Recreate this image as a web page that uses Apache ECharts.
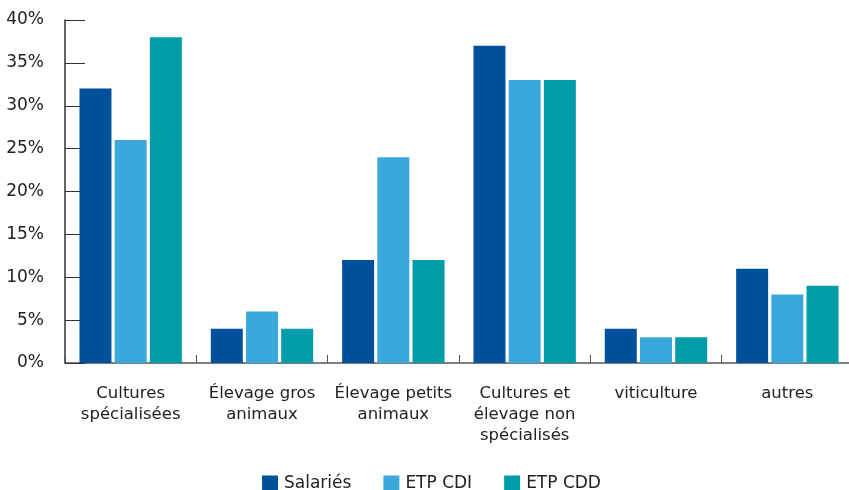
<!DOCTYPE html>
<html><head><meta charset="utf-8">
<script src="https://cdn.jsdelivr.net/npm/echarts@6/dist/echarts.min.js"></script>
<style>html,body{margin:0;padding:0;background:#fff;overflow:hidden}#c{width:870px;height:490px}</style>
</head><body><div id="c"></div>
<script>
const categories = ["Cultures\nspécialisées", "Élevage gros\nanimaux", "Élevage petits\nanimaux", "Cultures et\nélevage non\nspécialisés", "viticulture", "autres"];
const salaries = [32, 4, 12, 37, 4, 11];
const etpCdi = [26, 6, 24, 33, 3, 8];
const etpCdd = [38, 4, 12, 33, 3, 9];
const seriesNames = ["Salariés", "ETP CDI", "ETP CDD"];
const colors = ["#00519c", "#3aa8db", "#009ca7"];
const FONT = "DejaVu Sans";
const chart = echarts.init(document.getElementById('c'));
const mk = (name, data, color) => ({
  name, type: 'bar', data, barWidth: 32, barGap: '10%',
  itemStyle: { color }
});
chart.setOption({
  animation: false,
  color: colors,
  textStyle: { fontFamily: FONT },
  grid: { left: 65, width: 788, top: 20, height: 343, containLabel: false },
  legend: {
    left: 262, top: 475, padding: 0,
    itemWidth: 16, itemHeight: 16, itemGap: 32,
    icon: 'rect',
    textStyle: { fontFamily: FONT, fontSize: 17, color: '#222', padding: [0, 0, 0, 1] },
    data: seriesNames
  },
  xAxis: {
    type: 'category', data: categories,
    axisLine: { lineStyle: { color: '#555', width: 1.5 } },
    axisTick: { show: true, inside: true, length: 8, lineStyle: { color: '#555' } },
    axisLabel: { fontFamily: FONT, fontSize: 16.5, color: '#222', lineHeight: 21, margin: 20, interval: 0 }
  },
  yAxis: {
    type: 'value', min: 0, max: 40, interval: 5,
    axisLine: { show: true, lineStyle: { color: '#333', width: 1.5 } },
    axisTick: { show: true, inside: true, length: 20, lineStyle: { color: '#333' } },
    splitLine: { show: false },
    axisLabel: { fontFamily: FONT, fontSize: 17, color: '#222', margin: 21, formatter: v => v + '%' }
  },
  series: [
    mk(seriesNames[0], salaries, colors[0]),
    mk(seriesNames[1], etpCdi, colors[1]),
    mk(seriesNames[2], etpCdd, colors[2])
  ]
});
</script></body></html>
